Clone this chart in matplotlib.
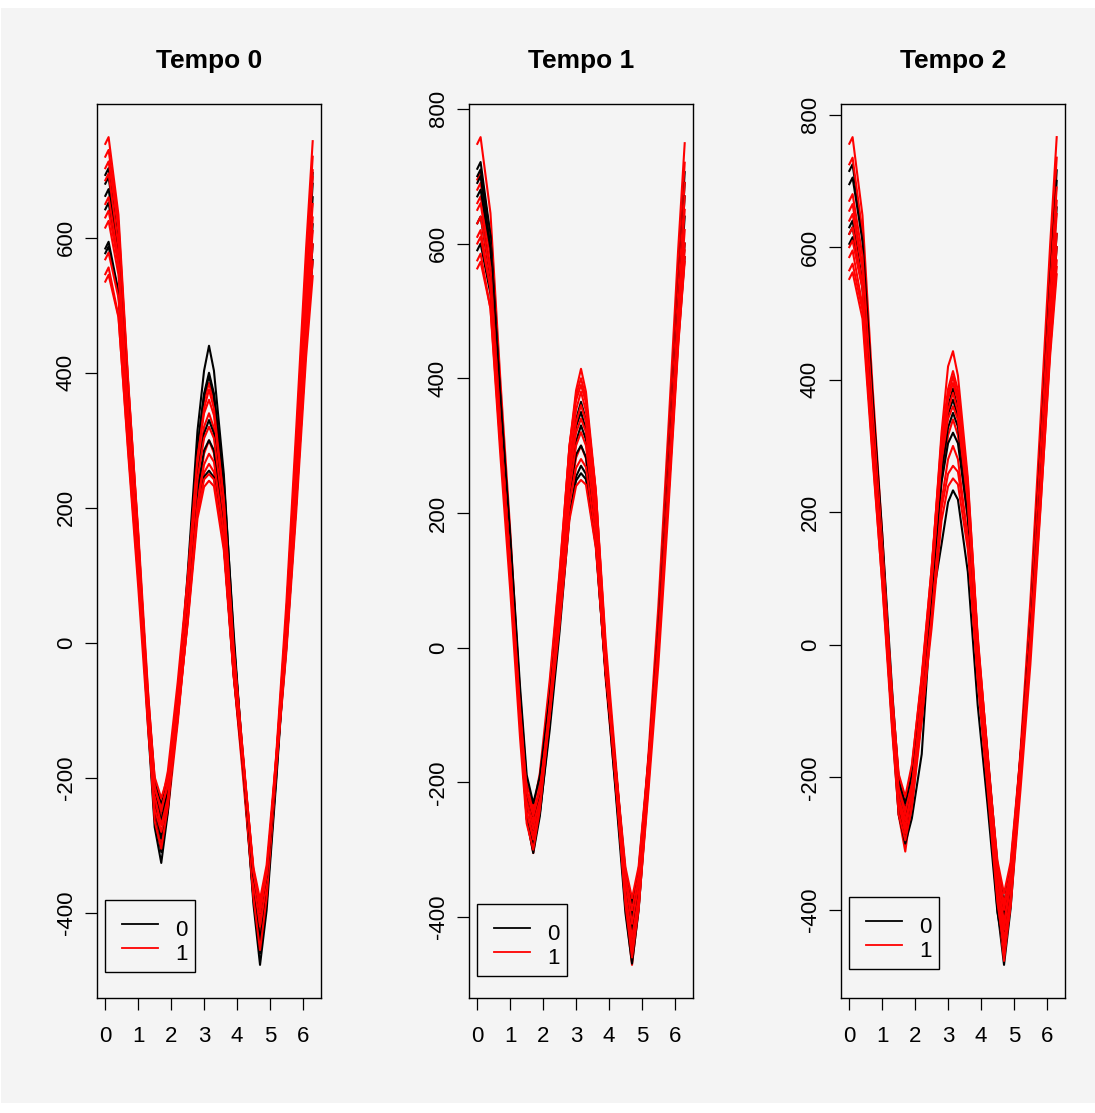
import matplotlib
matplotlib.use('Agg')
import matplotlib.pyplot as plt
import matplotlib.transforms as mtransforms
from matplotlib.patches import Rectangle
from matplotlib.lines import Line2D

plt.rcParams['font.family'] = ['Liberation Sans', 'DejaVu Sans']
plt.rcParams['axes.unicode_minus'] = False

# common abscissa of every curve
x_grid = [0.0, 0.1, 0.4, 0.7, 1.0, 1.3, 1.5, 1.7, 1.9, 2.2, 2.5, 2.8, 3.0,
          3.15, 3.3, 3.6, 3.9, 4.2, 4.5, 4.7, 4.9, 5.2, 5.5, 5.8, 6.1, 6.3]

# Tempo 0
t0_grupo0 = [
    [693, 703, 592, 346, 124, -125, -273, -326, -251, -86, 101, 314, 403, 440, 403, 250, 5, -192, -387, -477, -396, -200, 17, 274, 540, 696],
    [680, 690, 585, 345, 127, -116, -260, -310, -244, -90, 87, 288, 369, 400, 369, 240, 15, -192, -379, -460, -384, -193, 18, 268, 529, 680],
    [662, 672, 575, 342, 130, -106, -243, -290, -227, -78, 93, 289, 366, 395, 366, 229, 0, -180, -362, -440, -370, -184, 17, 259, 515, 660],
    [642, 652, 564, 340, 134, -92, -223, -265, -216, -85, 68, 246, 310, 330, 310, 192, -20, -182, -351, -415, -354, -179, 10, 239, 484, 620],
    [584, 594, 520, 311, 117, -95, -215, -250, -207, -85, 58, 227, 285, 300, 285, 175, -27, -180, -342, -400, -346, -177, 2, 222, 461, 590],
    [577, 587, 517, 311, 119, -90, -207, -240, -206, -95, 38, 196, 246, 255, 245, 145, -47, -190, -345, -395, -346, -181, -7, 208, 443, 567],
]
t0_grupo1 = [
    [739, 749, 634, 384, 159, -94, -245, -300, -250, -118, 36, 215, 280, 300, 281, 163, -47, -208, -376, -440, -357, -160, 59, 318, 585, 743],
    [720, 730, 622, 379, 158, -87, -233, -285, -224, -78, 89, 282, 358, 385, 356, 219, -9, -189, -372, -450, -369, -173, 42, 298, 564, 720],
    [703, 713, 613, 379, 165, -73, -212, -260, -210, -78, 76, 255, 320, 340, 318, 194, -22, -189, -362, -430, -355, -166, 43, 291, 550, 700],
    [685, 695, 588, 346, 126, -119, -264, -305, -243, -95, 75, 270, 347, 375, 347, 211, -17, -196, -378, -455, -378, -186, 25, 276, 538, 690],
    [650, 660, 569, 343, 135, -94, -227, -270, -230, -111, 30, 196, 252, 265, 253, 148, -50, -198, -356, -410, -346, -167, 28, 262, 511, 650],
    [630, 640, 559, 343, 143, -76, -202, -240, -190, -58, 96, 275, 340, 360, 337, 211, -7, -176, -351, -420, -357, -180, 13, 245, 492, 630],
    [615, 625, 545, 330, 131, -88, -212, -250, -205, -79, 70, 243, 303, 320, 303, 189, -17, -174, -340, -400, -343, -172, 13, 237, 478, 610],
    [568, 578, 511, 310, 120, -84, -199, -230, -198, -90, 40, 195, 242, 250, 242, 146, -42, -181, -333, -380, -329, -164, 13, 229, 464, 590],
    [546, 556, 484, 277, 83, -127, -246, -280, -236, -112, 34, 205, 264, 280, 268, 164, -32, -179, -337, -390, -342, -178, -5, 208, 442, 565],
    [535, 545, 482, 284, 97, -104, -216, -245, -212, -103, 28, 184, 231, 240, 232, 137, -50, -188, -339, -385, -340, -181, -13, 194, 424, 543],
]

# Tempo 1
t1_grupo0 = [
    [711, 721, 612, 368, 146, -101, -247, -300, -240, -95, 72, 264, 339, 365, 338, 204, -22, -199, -380, -455, -376, -181, 33, 287, 552, 706],
    [700, 710, 609, 373, 158, -81, -222, -270, -217, -81, 77, 260, 328, 350, 323, 189, -37, -213, -394, -469, -390, -196, 18, 272, 536, 690],
    [690, 700, 594, 353, 134, -110, -254, -305, -250, -111, 50, 236, 306, 330, 309, 187, -27, -192, -363, -430, -360, -174, 27, 269, 525, 670],
    [670, 680, 593, 371, 166, -59, -189, -231, -191, -73, 67, 232, 287, 300, 283, 169, -37, -194, -359, -420, -356, -177, 18, 252, 501, 640],
    [630, 640, 549, 323, 115, -114, -247, -290, -246, -122, 24, 195, 254, 270, 258, 154, -42, -189, -347, -400, -345, -175, 8, 230, 470, 600],
    [590, 600, 525, 315, 119, -94, -215, -250, -214, -100, 36, 197, 248, 259, 250, 152, -38, -178, -332, -380, -331, -167, 8, 222, 456, 580],
]
t1_grupo1 = [
    [748, 758, 645, 398, 174, -77, -226, -280, -233, -105, 45, 220, 282, 300, 281, 163, -47, -208, -376, -440, -356, -158, 62, 322, 590, 749],
    [695, 705, 598, 356, 136, -109, -254, -305, -237, -81, 96, 299, 382, 414, 380, 233, -5, -195, -386, -471, -387, -188, 32, 292, 561, 720],
    [680, 690, 595, 365, 154, -79, -215, -260, -201, -57, 109, 300, 374, 400, 370, 230, -2, -185, -370, -450, -374, -183, 28, 278, 539, 690],
    [660, 670, 583, 361, 156, -69, -199, -240, -186, -48, 113, 298, 367, 390, 364, 232, 8, -167, -346, -420, -351, -168, 33, 273, 526, 670],
    [650, 660, 564, 333, 122, -113, -249, -295, -234, -87, 82, 276, 353, 380, 351, 213, -17, -198, -382, -460, -388, -202, 3, 247, 503, 650],
    [630, 640, 553, 331, 126, -99, -229, -270, -219, -85, 72, 253, 319, 340, 320, 200, -12, -175, -345, -410, -350, -176, 13, 241, 485, 620],
    [610, 620, 534, 313, 109, -115, -244, -285, -234, -101, 54, 234, 300, 320, 300, 180, -32, -195, -365, -430, -370, -196, -8, 221, 465, 600],
    [600, 610, 533, 321, 124, -91, -214, -250, -211, -93, 48, 213, 267, 280, 268, 164, -32, -179, -337, -390, -338, -171, 8, 226, 463, 590],
    [575, 585, 503, 286, 85, -135, -261, -300, -241, -97, 69, 260, 334, 360, 335, 204, -20, -194, -372, -445, -386, -212, -25, 202, 446, 580],
    [563, 573, 504, 301, 110, -97, -213, -245, -211, -100, 33, 190, 240, 249, 242, 148, -38, -176, -326, -372, -325, -163, 8, 219, 451, 573],
]

# Tempo 2
t2_grupo0 = [
    [715, 725, 617, 374, 153, -92, -238, -290, -228, -81, 88, 283, 359, 387, 355, 211, -25, -212, -400, -483, -398, -198, 24, 286, 556, 716],
    [695, 705, 609, 378, 167, -68, -204, -250, -197, -61, 97, 280, 348, 370, 344, 212, -12, -187, -366, -440, -364, -173, 38, 288, 549, 700],
    [630, 640, 547, 319, 110, -121, -256, -300, -262, -165, 60, 151, 215, 233, 219, 110, -91, -242, -404, -460, -387, -199, 8, 254, 512, 660],
    [620, 630, 545, 325, 122, -101, -230, -270, -217, -81, 77, 260, 328, 350, 329, 207, -7, -172, -344, -410, -350, -176, 13, 241, 485, 620],
    [605, 615, 539, 328, 132, -83, -204, -240, -196, -72, 74, 245, 304, 320, 304, 192, -12, -167, -331, -390, -336, -168, 13, 233, 471, 600],
]
t2_grupo1 = [
    [756, 766, 648, 395, 167, -90, -243, -300, -244, -104, 58, 245, 316, 340, 316, 188, -32, -203, -379, -450, -362, -160, 66, 331, 603, 766],
    [725, 735, 621, 371, 146, -107, -257, -312, -239, -76, 109, 319, 420, 443, 406, 252, 6, -191, -387, -477, -390, -188, 37, 301, 573, 735],
    [670, 680, 587, 359, 150, -81, -216, -260, -199, -52, 116, 310, 386, 413, 384, 245, 14, -167, -351, -430, -357, -168, 37, 283, 542, 690],
    [655, 665, 570, 340, 129, -104, -239, -285, -221, -71, 100, 297, 376, 405, 373, 229, -7, -194, -382, -465, -389, -199, 10, 259, 519, 670],
    [640, 650, 567, 349, 147, -74, -200, -240, -185, -46, 115, 301, 371, 395, 368, 235, 10, -165, -345, -420, -354, -173, 22, 258, 509, 650],
    [620, 630, 544, 323, 119, -105, -234, -275, -217, -74, 91, 281, 354, 380, 352, 217, -10, -187, -369, -445, -380, -200, -5, 230, 480, 620],
    [600, 610, 537, 329, 135, -76, -195, -229, -181, -51, 101, 278, 341, 360, 339, 217, 3, -162, -334, -400, -345, -175, 8, 230, 470, 600],
    [585, 595, 512, 294, 92, -129, -256, -295, -246, -115, 38, 216, 280, 300, 280, 159, -55, -219, -389, -455, -395, -219, -30, 199, 445, 580],
    [565, 575, 505, 300, 108, -100, -217, -250, -212, -96, 42, 205, 258, 270, 261, 162, -30, -172, -326, -375, -328, -166, 5, 216, 448, 570],
    [552, 562, 492, 286, 94, -115, -232, -265, -228, -112, 25, 187, 239, 251, 242, 144, -47, -188, -341, -390, -342, -180, -8, 204, 436, 559],
]

titles = ['Tempo 0', 'Tempo 1', 'Tempo 2']
x_ticks = [0, 1, 2, 3, 4, 5, 6]
y_ticks = [[-400, -200, 0, 200, 400, 600],
           [-400, -200, 0, 200, 400, 600, 800],
           [-400, -200, 0, 200, 400, 600, 800]]
group_labels = ['0', '1']
group_colors = ['black', '#ff0000']

panels = [(t0_grupo0, t0_grupo1), (t1_grupo0, t1_grupo1), (t2_grupo0, t2_grupo1)]

BG = '#f4f4f4'
W, H = 1095, 1113
fig = plt.figure(figsize=(W / 100, H / 100), dpi=100, facecolor='white')
fig.add_artist(Rectangle((1 / W, 10 / H), 1094 / W, 1095 / H, transform=fig.transFigure,
                         facecolor=BG, edgecolor='none', zorder=-10))

ax_lefts = [97, 469, 841]
ax_w, ax_top, ax_bottom = 224, 104, 998
ident = mtransforms.IdentityTransform()


def pad4(lo, hi):
    # R style axis range: data range plus 4% on each side
    r = hi - lo
    return lo - 0.04 * r, hi + 0.04 * r


for k, (grupo0, grupo1) in enumerate(panels):
    ax = fig.add_axes([ax_lefts[k] / W, (H - ax_bottom) / H, ax_w / W, (ax_bottom - ax_top) / H])
    ax.set_facecolor(BG)

    # interleave the two groups so neither hides the other completely
    order = []
    for i in range(max(len(grupo0), len(grupo1))):
        if i < len(grupo1):
            order.append((grupo1[i], group_colors[1]))
        if i < len(grupo0):
            order.append((grupo0[i], group_colors[0]))
    for curve, color in order:
        ax.plot(x_grid, curve, color=color, lw=1.5, solid_joinstyle='round')

    all_vals = [v for c in grupo0 + grupo1 for v in c]
    ax.set_xlim(*pad4(min(x_grid), max(x_grid)))
    ax.set_ylim(*pad4(min(all_vals), max(all_vals)))
    ax.set_xticks(x_ticks)
    ax.set_yticks(y_ticks[k])
    ax.tick_params(direction='out', length=8.5, width=0.9, labelsize=16, color='black')
    ax.tick_params(axis='x', pad=12)
    ax.tick_params(axis='y', pad=6, labelrotation=90)
    for lab in ax.get_yticklabels():
        lab.set_va('center')
    for sp in ax.spines.values():
        sp.set_linewidth(1.0)

    cx = (ax_lefts[k] + ax_w / 2) / W
    fig.text(cx, (H - 68) / H, titles[k], ha='center', va='baseline',
             fontsize=19, fontweight='bold')

    # legend box anchored at data (0, -381), sized in pixels like R's legend()
    x0, y0 = ax.transData.transform((0, -381))
    fig.add_artist(Rectangle((x0, y0 - 72), 90, 72, transform=ident,
                             facecolor='none', edgecolor='black', lw=1.0))
    for j, (lab, col) in enumerate(zip(group_labels, group_colors)):
        ly = y0 - 24 - 23.5 * j
        fig.add_artist(Line2D([x0 + 17, x0 + 53], [ly, ly], transform=ident,
                              color=col, lw=1.3))
        fig.text(x0 + 70, ly - 12, lab, transform=ident, fontsize=16,
                 ha='left', va='baseline')

fig.savefig('out.png', dpi=100, facecolor=fig.get_facecolor())
